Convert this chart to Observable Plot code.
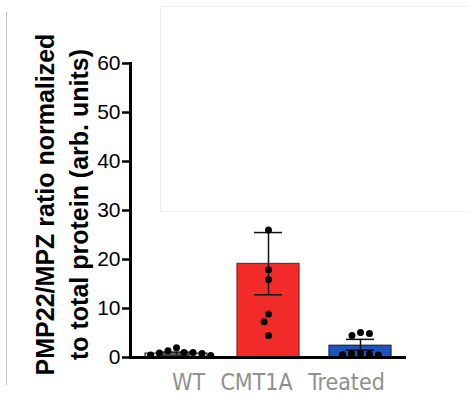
<!DOCTYPE html>
<html>
<head>
<meta charset="utf-8">
<script src="https://cdn.jsdelivr.net/npm/d3@7"></script>
<script src="https://cdn.jsdelivr.net/npm/@observablehq/plot@0.6"></script>
<style>
  html, body { margin: 0; padding: 0; background: #fff; }
  #wrap { position: relative; width: 470px; height: 402px; overflow: hidden; }
  .deco { position: absolute; pointer-events: none; }
</style>
</head>
<body>
<div id="wrap">
  <div id="chart"></div>
  <div class="deco" style="left:6px; top:12px; width:1px; height:373px; background:#c4c4c4;"></div>
  <div class="deco" style="left:160px; top:6px; width:320px; height:206px; border:1px solid #f0f0f0; box-sizing:border-box;"></div>
</div>
<script>
// ---- data ----
const categories = ["WT", "CMT1A", "Treated"];
const means = [0.8, 19.1, 2.4];
const errLow = [0.5, 12.8, 1.5];
const errHigh = [1.1, 25.5, 3.7];
const wtPoints = [2.0, 1.4, 1.0, 1.0, 0.9, 0.8, 0.5, 0.4];
const cmtPoints = [26.0, 17.9, 15.9, 8.9, 7.3, 4.5];
const treatedPoints = [5.1, 4.5, 4.9, 0.9, 0.8, 0.7, 0.6, 0.5];
const yTicks = [0, 10, 20, 30, 40, 50, 60];
const yLabel = "PMP22/MPZ ratio normalized\nto total protein (arb. units)";

// ---- tables built from the arrays ----
const stats = categories.map((c, i) => ({group: c, mean: means[i], lo: errLow[i], hi: errHigh[i]}));
const points = [
  ...wtPoints.map(v => ({group: "WT", value: v})),
  ...cmtPoints.map(v => ({group: "CMT1A", value: v})),
  ...treatedPoints.map(v => ({group: "Treated", value: v}))
];

const fills = ["#d4d4d4", "#f22b2b", "#2252bb"];
const strokes = ["#333333", "#9a1c1c", "#0e2462"];
const labelShift = [12, -12, -14];

const chart = Plot.plot({
  width: 470,
  height: 402,
  marginLeft: 129,
  marginRight: 63,
  marginTop: 63,
  marginBottom: 45,
  style: {fontFamily: "'Liberation Sans', Arial, sans-serif", background: "transparent"},
  fx: {domain: categories, padding: 0, axis: null, label: null},
  y: {domain: [0, 60], label: null},
  color: {domain: categories, range: fills},
  marks: [
    Plot.barY(stats, {fx: "group", y: "mean", fill: "group", stroke: d => strokes[categories.indexOf(d.group)], strokeWidth: 1.2, insetLeft: 15, insetRight: 15}),
    Plot.ruleX(stats, {fx: "group", x: null, y1: "lo", y2: "hi", stroke: "#111", strokeWidth: 1.5}),
    Plot.tickY(stats, {fx: "group", y: "hi", stroke: "#111", strokeWidth: 1.5, insetLeft: 32, insetRight: 32}),
    Plot.tickY(stats, {fx: "group", y: "lo", stroke: "#111", strokeWidth: 1.5, insetLeft: 32, insetRight: 32}),
    Plot.ruleY([0], {stroke: "#000", strokeWidth: 3}),
    Plot.frame({anchor: "left", facetAnchor: "left", stroke: "#000", strokeWidth: 3}),
    Plot.dot(points, Plot.dodgeX({anchor: "middle", padding: 2}, {fx: "group", y: "value", r: 3.5, fill: "#000"})),
    Plot.axisY({ticks: yTicks, tickSize: 8, tickPadding: 2, fontSize: 21, strokeWidth: 2.5, label: null, fill: "#000"}),
    Plot.text([yLabel], {text: d => d, frameAnchor: "left", facetAnchor: "left", rotate: -90, dx: -70, dy: -6, fontSize: 25, fontWeight: "bold", lineHeight: 1.36, textAnchor: "middle", fill: "#000"}),
    ...categories.map((c, i) => Plot.text([c], {fx: d => d, text: d => d, frameAnchor: "bottom", dy: 32, dx: labelShift[i], fontSize: 23, fontFamily: "'DejaVu Sans Condensed', 'DejaVu Sans', sans-serif", fontStretch: "condensed", fill: "#909090"}))
  ]
});
document.getElementById("chart").appendChild(chart);
</script>
</body>
</html>
